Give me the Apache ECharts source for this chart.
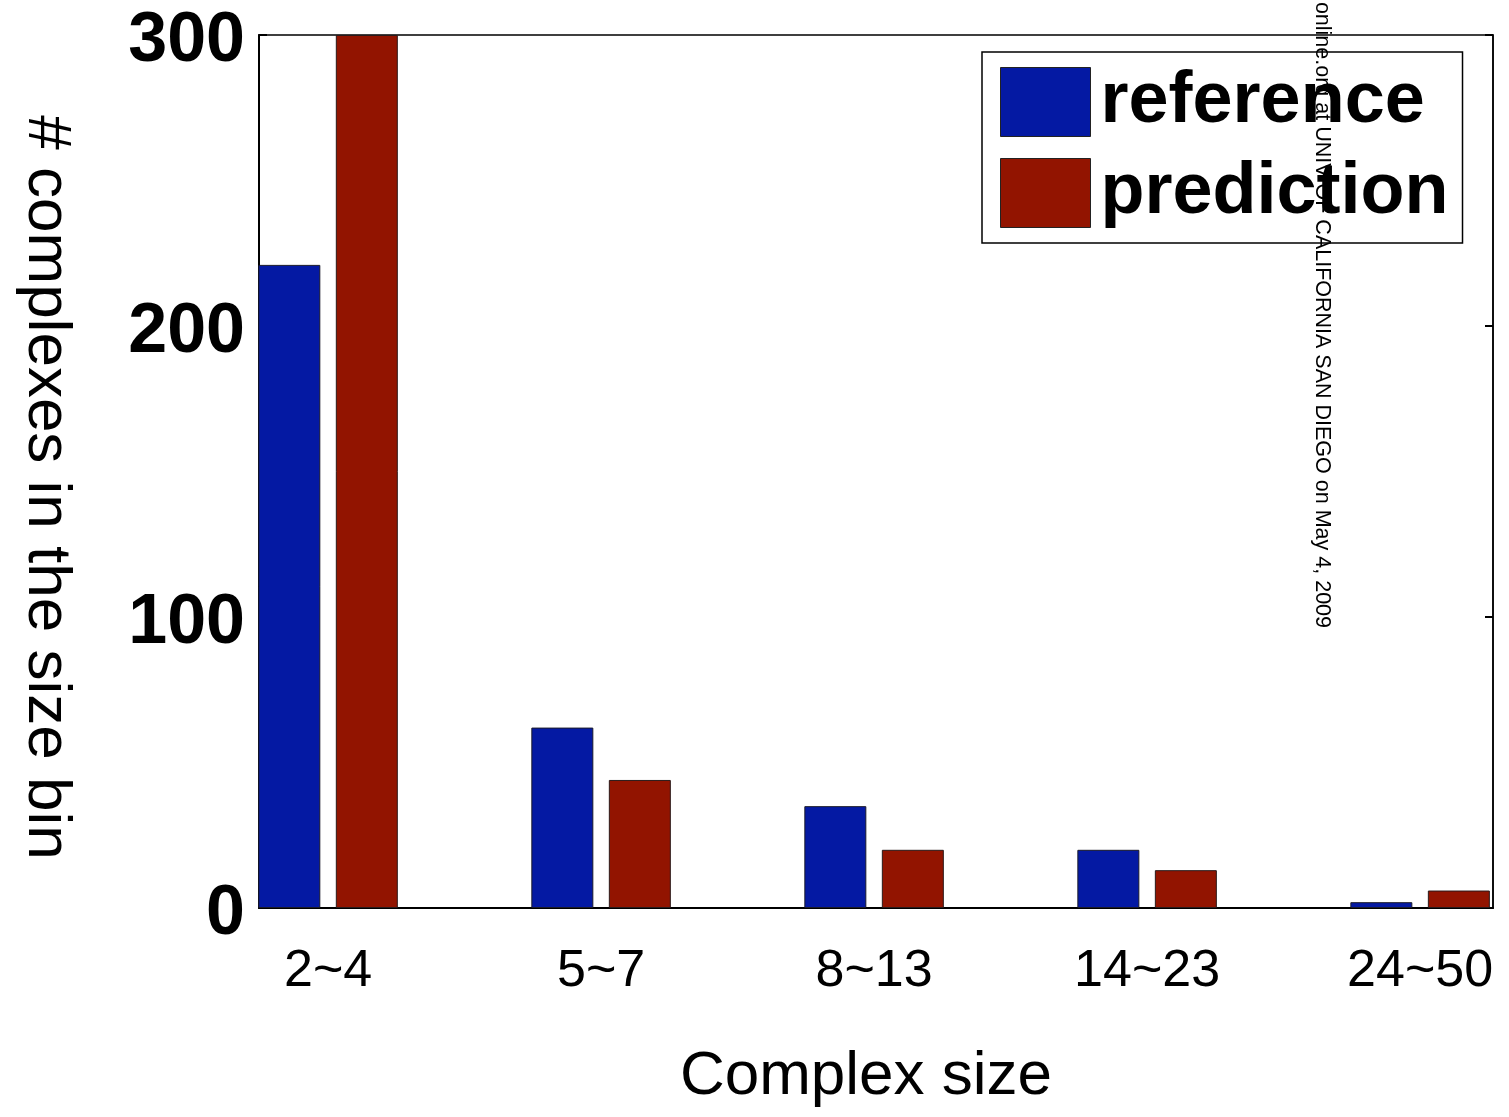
<!DOCTYPE html>
<html>
<head>
<meta charset="utf-8">
<script src="https://cdn.jsdelivr.net/npm/echarts@6/dist/echarts.min.js"></script>
<style>
  html, body { margin: 0; padding: 0; background: #fff; }
  #chart { width: 1509px; height: 1117px; }
</style>
</head>
<body>
<div id="chart"></div>
<script>
// size bins and counts
var sizeBins = ['2~4', '5~7', '8~13', '14~23', '24~50'];
var referenceCounts = [221, 62, 35, 20, 2];
var predictionCounts = [300, 44, 20, 13, 6];
var yTicks = [0, 100, 200, 300];

var font = '"Liberation Sans", Arial, Helvetica, sans-serif';
var chart = echarts.init(document.getElementById('chart'));

// bins sit at x = 1..5 on a value axis so the span can match the original frame
var toPairs = function (vals) {
  return vals.map(function (v, i) { return [i + 1, v]; });
};

var option = {
  backgroundColor: '#fff',
  animation: false,
  grid: {
    left: 259, right: 16, top: 35, bottom: 209,
    outerBoundsMode: 'none',
    containLabel: false,
    show: true, borderColor: '#000', borderWidth: 1.5
  },
  legend: {
    orient: 'vertical',
    left: 982, top: 52,
    padding: [14, 14, 14, 18],
    icon: 'rect',
    itemWidth: 90, itemHeight: 69, itemGap: 19,
    borderColor: '#000', borderWidth: 1.5,
    backgroundColor: '#fff',
    textStyle: { fontFamily: font, fontWeight: 'bold', fontSize: 72, color: '#000', padding: [0, 0, 0, 5] },
    itemStyle: { borderColor: '#222', borderWidth: 1 },
    data: ['reference', 'prediction']
  },
  xAxis: {
    type: 'value',
    min: 0.747, max: 5.267,
    name: 'Complex size',
    nameLocation: 'middle',
    nameGap: 138,
    nameMoveOverlap: false,
    nameTextStyle: { fontFamily: font, fontSize: 62, color: '#000', padding: [0, 20, 0, 0] },
    axisLine: { show: true, onZero: false, lineStyle: { color: '#000', width: 2 } },
    axisTick: { show: false },
    splitLine: { show: false },
    axisLabel: {
      customValues: [1, 2, 3, 4, 5],
      formatter: function (v) { return sizeBins[Math.round(v) - 1]; },
      fontFamily: font, fontSize: 52, color: '#000', margin: 38
    }
  },
  yAxis: [{
    type: 'value',
    min: yTicks[0], max: yTicks[yTicks.length - 1], interval: 100,
    name: '# complexes in the size bin',
    nameLocation: 'middle',
    nameRotate: -90,
    nameGap: 182,
    nameMoveOverlap: false,
    nameTextStyle: { fontFamily: font, fontSize: 62, color: '#000', padding: [0, 0, 0, 32] },
    axisLine: { show: true, lineStyle: { color: '#000', width: 2 } },
    axisTick: { show: true, inside: true, length: 8, lineStyle: { color: '#000', width: 2 } },
    splitLine: { show: false },
    axisLabel: {
      fontFamily: font, fontWeight: 'bold', fontSize: 70, color: '#000', margin: 14,
      verticalAlign: 'top', lineHeight: 14
    }
  }, {
    type: 'value',
    position: 'right',
    min: yTicks[0], max: yTicks[yTicks.length - 1], interval: 100,
    axisLine: { show: true, lineStyle: { color: '#000', width: 1.5 } },
    axisTick: { show: true, inside: true, length: 8, lineStyle: { color: '#000', width: 2 } },
    axisLabel: { show: false },
    splitLine: { show: false }
  }],
  series: [{
    name: 'reference',
    type: 'bar',
    barWidth: 62,
    barGap: '25%',
    itemStyle: { color: '#0419A3', borderColor: '#1a1a2a', borderWidth: 1 },
    data: toPairs(referenceCounts)
  }, {
    name: 'prediction',
    type: 'bar',
    barWidth: 62,
    barGap: '25%',
    itemStyle: { color: '#921400', borderColor: '#2a1a1a', borderWidth: 1 },
    data: toPairs(predictionCounts)
  }],
  graphic: [{
    type: 'text',
    x: 1322, y: 628,
    rotation: -Math.PI / 2,
    z: 100,
    style: {
      text: 'online.org at UNIV OF CALIFORNIA SAN DIEGO on May 4, 2009',
      font: '21.5px ' + font,
      fill: '#000',
      align: 'right',
      verticalAlign: 'middle'
    }
  }]
};

chart.setOption(option);
</script>
</body>
</html>
